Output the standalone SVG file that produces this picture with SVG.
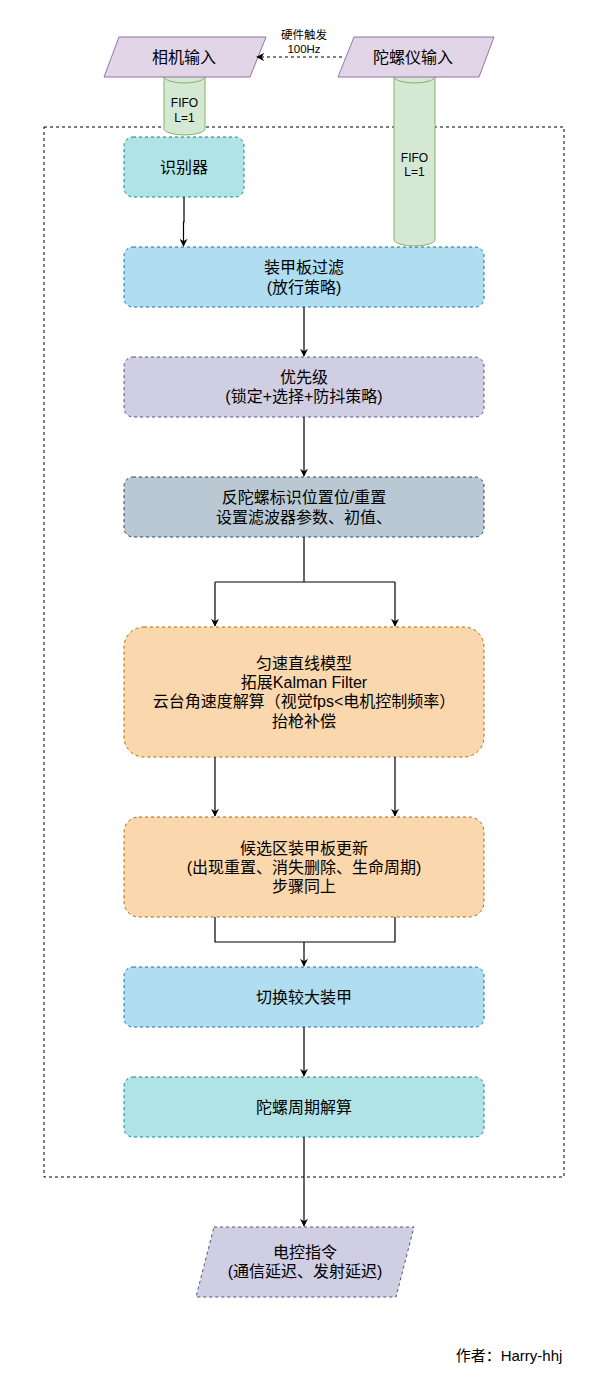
<svg xmlns="http://www.w3.org/2000/svg" width="595" height="1388" viewBox="0 0 595 1388">
<defs>
<style>
text{font-family:"Liberation Sans","Noto Sans CJK SC",sans-serif;fill:#000;text-anchor:middle;dominant-baseline:central}
.t{font-size:16px}
.s{font-size:12px}
.c{fill:none;stroke:#000;stroke-width:1.2}
.d{stroke-dasharray:3 3;stroke-width:1}
.cyl{fill:#d5e8d4;stroke:#82b366;stroke-width:1}
.io{fill:#e1d5e7;stroke:#9673a6;stroke-width:1}
</style>
<marker id="a" viewBox="0 0 10 10" refX="9" refY="5" markerWidth="8" markerHeight="8" markerUnits="userSpaceOnUse" orient="auto">
<path d="M0,0 L10,5 L0,10 L3,5 z" fill="#000"/>
</marker>
</defs>
<rect width="595" height="1388" fill="#fff"/>
<g id="container"><rect x="44" y="127" width="520" height="1050" fill="none" stroke="#000" stroke-dasharray="3 3"/></g>
<g id="fifo1">
<path class="cyl" d="M164,76.5 A20.5,6.5 0 0 1 205,76.5 L205,128.5 A20.5,6.5 0 0 1 164,128.5 Z"/>
<path d="M164,76.5 A20.5,6.5 0 0 0 205,76.5" fill="none" stroke="#82b366"/>
<text class="s" x="184.5" y="103">FIFO</text><text class="s" x="184.5" y="118">L=1</text>
</g>
<g id="fifo2">
<path class="cyl" d="M394,76.5 A20.5,6.5 0 0 1 435,76.5 L435,239.5 A20.5,6.5 0 0 1 394,239.5 Z"/>
<path d="M394,76.5 A20.5,6.5 0 0 0 435,76.5" fill="none" stroke="#82b366"/>
<text class="s" x="414.5" y="158">FIFO</text><text class="s" x="414.5" y="172">L=1</text>
</g>
<g id="camera"><polygon class="io" points="119,37 266,37 250,77 104,77"/><text class="t" x="184" y="57">相机输入</text></g>
<g id="gyro"><polygon class="io" points="354,37 494,37 479,77 338,77"/><text class="t" x="413" y="57">陀螺仪输入</text></g>
<g id="detector"><rect x="124" y="137" width="120" height="60" rx="9" fill="#b0e3e6" stroke="#0e8088" stroke-dasharray="3 3"/><text class="t" x="184" y="167">识别器</text></g>
<g id="filter"><rect x="124" y="247" width="360" height="60" rx="9" fill="#b1ddf0" stroke="#10739e" stroke-dasharray="3 3"/><text class="t" x="304" y="267">装甲板过滤</text><text class="t" x="304" y="287">(放行策略)</text></g>
<g id="priority"><rect x="124" y="357" width="360" height="60" rx="9" fill="#d0cee2" stroke="#56517e" stroke-dasharray="3 3"/><text class="t" x="304" y="377">优先级</text><text class="t" x="304" y="396">(锁定+选择+防抖策略)</text></g>
<g id="antigyro"><rect x="124" y="477" width="360" height="60" rx="9" fill="#bac8d3" stroke="#23445d" stroke-dasharray="3 3"/><text class="t" x="304" y="497">反陀螺标识位置位/重置</text><text class="t" x="304" y="517">设置滤波器参数、初值、</text></g>
<g id="kalman"><rect x="124" y="627" width="360" height="130" rx="20" fill="#fad7ac" stroke="#b46504" stroke-dasharray="3 3"/><text class="t" x="304" y="663">匀速直线模型</text><text class="t" x="304" y="682.5">拓展Kalman Filter</text><text class="t" x="304" y="701.5">云台角速度解算（视觉fps&lt;电机控制频率）</text><text class="t" x="304" y="721">抬枪补偿</text></g>
<g id="candidate"><rect x="124" y="817" width="360" height="100" rx="15" fill="#fad7ac" stroke="#b46504" stroke-dasharray="3 3"/><text class="t" x="304" y="848">候选区装甲板更新</text><text class="t" x="304" y="867">(出现重置、消失删除、生命周期)</text><text class="t" x="304" y="886">步骤同上</text></g>
<g id="switch"><rect x="124" y="967" width="360" height="60" rx="9" fill="#b1ddf0" stroke="#10739e" stroke-dasharray="3 3"/><text class="t" x="304" y="997">切换较大装甲</text></g>
<g id="period"><rect x="124" y="1077" width="360" height="60" rx="9" fill="#b0e3e6" stroke="#0e8088" stroke-dasharray="3 3"/><text class="t" x="304" y="1107">陀螺周期解算</text></g>
<g id="output"><polygon points="214,1227 414,1227 396,1297 196,1297" fill="#d0cee2" stroke="#56517e" stroke-dasharray="3 3"/><text class="t" x="305" y="1252.5">电控指令</text><text class="t" x="305" y="1271.5">(通信延迟、发射延迟)</text></g>
<g id="connectors">
<path class="c d" d="M342,57 L257,57" marker-end="url(#a)"/>
<text class="s" x="304" y="35" style="font-size:11.5px">硬件触发</text><text class="s" x="304" y="49" style="font-size:11.5px">100Hz</text>
<path class="c" d="M184,197 L184,222 L183.5,222 L183.5,246" marker-end="url(#a)"/>
<path class="c" d="M304,307 L304,356" marker-end="url(#a)"/>
<path class="c" d="M304,417 L304,476" marker-end="url(#a)"/>
<path class="c" d="M304,537 L304,582"/>
<path class="c" d="M215,582 L395,582"/>
<path class="c" d="M215,582 L215,626" marker-end="url(#a)"/>
<path class="c" d="M395,582 L395,626" marker-end="url(#a)"/>
<path class="c" d="M215,757 L215,816" marker-end="url(#a)"/>
<path class="c" d="M395,757 L395,816" marker-end="url(#a)"/>
<path class="c" d="M215,917 L215,942 L395,942 L395,917"/>
<path class="c" d="M304,942 L304,966" marker-end="url(#a)"/>
<path class="c" d="M304,1027 L304,1076" marker-end="url(#a)"/>
<path class="c" d="M304,1137 L304,1226" marker-end="url(#a)"/>
</g>
<text x="509" y="1355" style="font-size:15px">作者：Harry-hhj</text>
</svg>
